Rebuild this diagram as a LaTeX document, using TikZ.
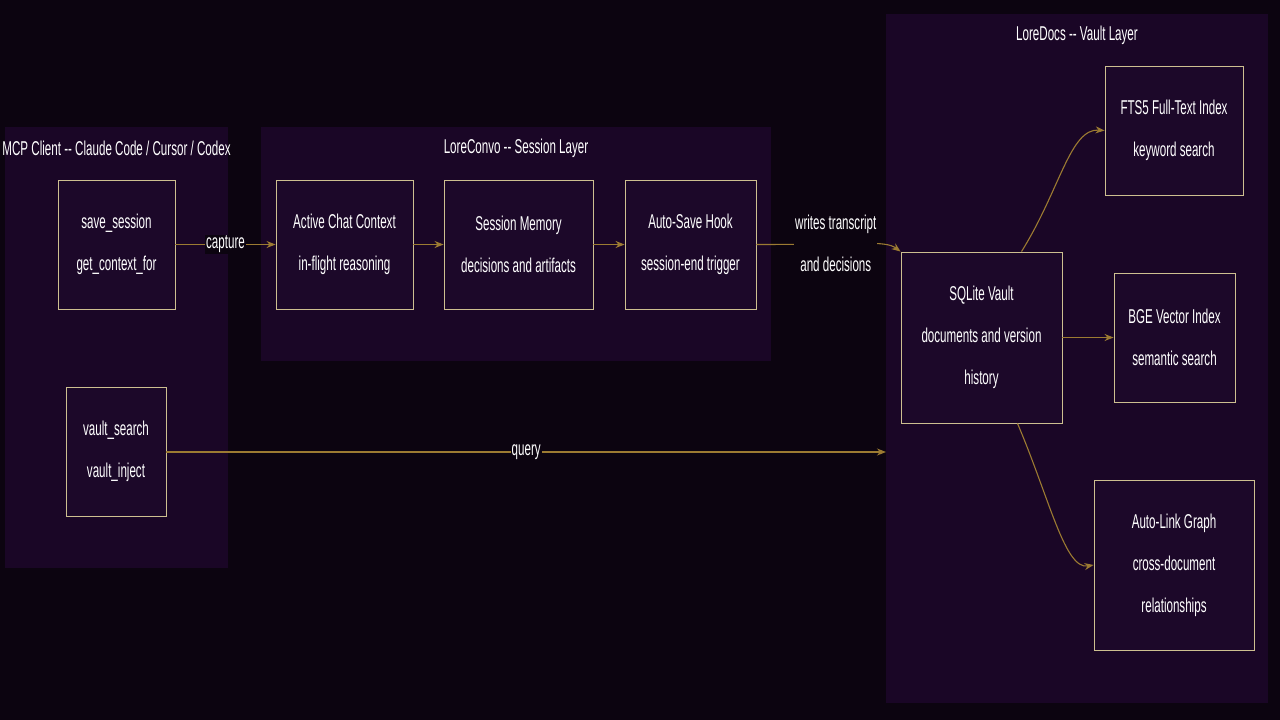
\documentclass[tikz,border=0pt]{standalone}
\usepackage{fontspec}
\setmainfont{Liberation Sans}[FakeStretch=0.58]
\usetikzlibrary{positioning,arrows.meta}
\definecolor{bgcol}{HTML}{0C0410}
\definecolor{clustercol}{HTML}{1A0626}
\definecolor{boxcol}{HTML}{1C0829}
\definecolor{edgecol}{HTML}{CDBF90}
\definecolor{linkcol}{HTML}{9C7B32}
\tikzset{
  cluster/.style={fill=clustercol,draw=none},
  box/.style={draw=edgecol,line width=0.9pt,fill=boxcol,text=white,align=center,inner sep=0pt,font=\fontsize{20}{42}\selectfont},
  ttl/.style={text=white,font=\fontsize{20}{22}\selectfont},
  link/.style={draw=linkcol,line width=1.1pt,-{Stealth[length=9pt,width=7pt]}},
  lbl/.style={fill=bgcol,text=white,align=center,inner sep=1pt,font=\fontsize{20}{42}\selectfont}
}
\begin{document}
\begin{tikzpicture}[x=1pt,y=-1pt]
\useasboundingbox[fill=bgcol] (0,0) rectangle (1280,720);
%% clusters
\fill[cluster] (5,127) rectangle (228,568);
\fill[cluster] (261,127) rectangle (771,361);
\fill[cluster] (886,14) rectangle (1268,703);
\node[ttl] (mcpTitle) at (116.5,148) {MCP Client {-}{-} Claude Code / Cursor / Codex};
\node[ttl] (convoTitle) at (516,148) {LoreConvo {-}{-} Session Layer};
\node[ttl] (docsTitle) at (1077,35) {LoreDocs {-}{-} Vault Layer};
%the nodes
\node[box,minimum width=117pt,minimum height=129pt] (saveSession) at (116.5,244.5) {save\_session\\get\_context\_for};
\node[box,minimum width=100pt,minimum height=129pt] (vaultSearch) at (116,451.5) {vault\_search\\vault\_inject};
\node[box,minimum width=137pt,minimum height=129pt] (activeChat) at (344.5,244.5) {Active Chat Context\\in-flight reasoning};
\node[box,minimum width=149pt,minimum height=129pt] (sessionMem) at (518.5,244.5) {Session Memory\\decisions and artifacts};
\node[box,minimum width=131pt,minimum height=129pt] (autoSave) at (690.5,244.5) {Auto-Save Hook\\session-end trigger};
\node[box,minimum width=161pt,minimum height=171pt] (sqliteVault) at (981.5,337.5) {SQLite Vault\\documents and version\\history};
\node[box,minimum width=138pt,minimum height=129pt] (ftsIndex) at (1174,130.5) {FTS5 Full-Text Index\\keyword search};
\node[box,minimum width=121pt,minimum height=129pt] (bgeIndex) at (1174.5,337.5) {BGE Vector Index\\semantic search};
\node[box,minimum width=160pt,minimum height=170pt] (autoLink) at (1174,565) {Auto-Link Graph\\cross-document\\relationships};
\coordinate (docsEdge) at (886,452);
%drawings of lines
\draw[link] (saveSession) -- node[lbl] {capture} (activeChat);
\draw[link] (activeChat) -- (sessionMem);
\draw[link] (sessionMem) -- (autoSave);
\draw[link] (autoSave.east) .. controls (860,244.5) and (885,240) .. node[lbl,pos=0.33] {writes transcript\\and decisions} (sqliteVault.north west);
\draw[link] (vaultSearch.east |- docsEdge) -- node[lbl] {query} (docsEdge);
\draw[link] ([xshift=40pt]sqliteVault.north) .. controls (1060,190) and (1070,128) .. (ftsIndex.west);
\draw[link] (sqliteVault) -- (bgeIndex);
\draw[link] ([xshift=36pt]sqliteVault.south) .. controls (1050,500) and (1065,570) .. (autoLink.west);
\end{tikzpicture}
\end{document}
